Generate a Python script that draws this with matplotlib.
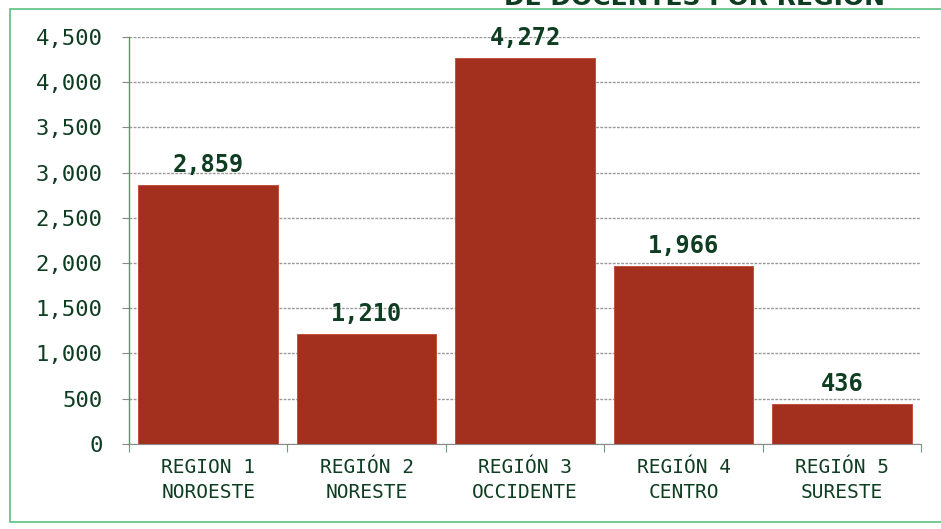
import matplotlib.pyplot as plt
from matplotlib.patches import Rectangle

categorias = ["REGION 1\nNOROESTE", "REGIÓN 2\nNORESTE", "REGIÓN 3\nOCCIDENTE",
              "REGIÓN 4\nCENTRO", "REGIÓN 5\nSURESTE"]
docentes = [2859, 1210, 4272, 1966, 436]
yticks = [0, 500, 1000, 1500, 2000, 2500, 3000, 3500, 4000, 4500]

verde = "#0f3d22"
barra = "#a32f1e"
fuente = "DejaVu Sans Mono"

fig = plt.figure(figsize=(9.41, 5.29), dpi=100)
ax = fig.add_axes([0.137, 0.161, 0.842, 0.769])

x = range(len(docentes))
ax.bar(x, docentes, width=0.88, color=barra, edgecolor="#c0452e", linewidth=0.6, zorder=3)
for i, v in zip(x, docentes):
    ax.text(i, v + 90, f"{v:,}", ha="center", va="bottom", fontsize=17,
            family=fuente, color=verde, fontweight="bold", zorder=4)

ax.set_xlim(-0.5, 4.5)
ax.set_ylim(0, 4500)
ax.set_yticks(yticks)
ax.set_yticklabels([f"{t:,}" for t in yticks], family=fuente, fontsize=16, color=verde)
ax.set_xticks([i - 0.5 for i in range(6)], minor=False)
ax.set_xticklabels([])
ax.set_xticks(list(x), minor=True)
ax.set_xticklabels(categorias, minor=True, family=fuente, fontsize=14, color=verde,
                   linespacing=1.4)
ax.tick_params(axis="x", which="minor", length=0, pad=10)
ax.tick_params(axis="x", which="major", length=6, color="#6a9a7a", direction="out")
ax.tick_params(axis="y", length=5, color="#888888", pad=14)

ax.yaxis.grid(True, color="#9a9a9a", linewidth=1.0, linestyle=(0, (2, 1)), zorder=0)
ax.spines["top"].set_visible(False)
ax.spines["right"].set_visible(False)
ax.spines["left"].set_color("#3aa860")
ax.spines["bottom"].set_color("#8a8a8a")
ax.spines["left"].set_linewidth(1.0)

# marco exterior
fig.patches.append(Rectangle((0.011, 0.013), 0.99, 0.97, transform=fig.transFigure,
                             fill=False, edgecolor="#5cbf80", linewidth=1.2))

# titulo recortado en el borde superior, como en el escaneo
fig.text(0.94, 1.003, "DE DOCENTES POR REGIÓN", ha="right", va="center",
         fontsize=18, fontweight="bold", color=verde, family="DejaVu Sans")

fig.savefig("out.png", dpi=100)
